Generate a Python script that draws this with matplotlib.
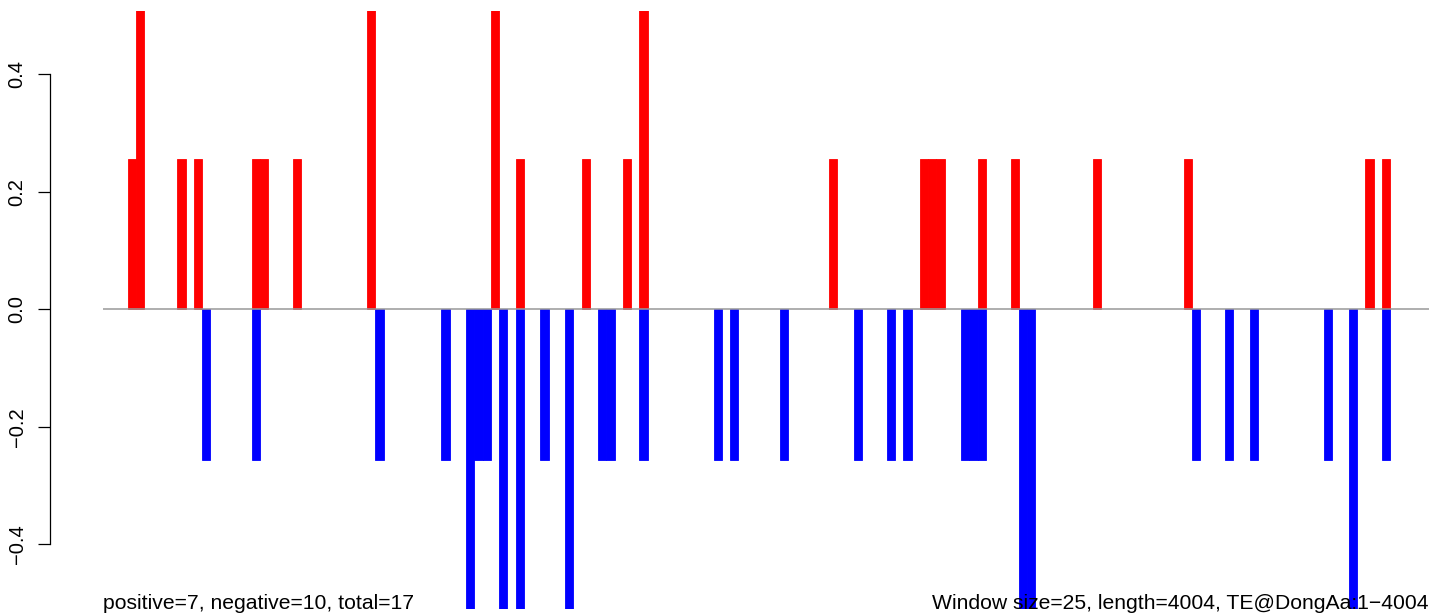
import matplotlib
matplotlib.use("Agg")
import matplotlib.pyplot as plt

plt.rcParams['font.family'] = ['Liberation Sans', 'DejaVu Sans']

# window index (25 bp windows) and score
pos_idx = [3, 4, 9, 11, 18, 19, 23, 32, 47, 50, 58, 63, 65, 88, 99, 100, 101,
           106, 110, 120, 131, 153, 155]
pos_val = [0.256, 0.513, 0.256, 0.256, 0.256, 0.256, 0.256, 0.513, 0.513, 0.256,
           0.256, 0.256, 0.513, 0.256, 0.256, 0.256, 0.256, 0.256, 0.256, 0.256,
           0.256, 0.256, 0.256]

neg_idx = [12, 18, 33, 41, 44, 45, 46, 48, 50, 53, 56, 60, 61, 65, 74, 76, 82,
           91, 95, 97, 104, 105, 106, 111, 112, 132, 136, 139, 148, 151, 155]
neg_val = [-0.256, -0.256, -0.256, -0.256, -0.513, -0.256, -0.256, -0.513, -0.513,
           -0.256, -0.513, -0.256, -0.256, -0.256, -0.256, -0.256, -0.256, -0.256,
           -0.256, -0.256, -0.256, -0.256, -0.256, -0.513, -0.513, -0.256, -0.256,
           -0.256, -0.256, -0.513, -0.256]

yticks = [-0.4, -0.2, 0.0, 0.2, 0.4]
left_note = "positive=7, negative=10, total=17"
right_note = "Window size=25, length=4004, TE@DongAa:1\u22124004"

W, H = 1429, 613
fig = plt.figure(figsize=(W / 100, H / 100), dpi=100)
ax = fig.add_axes([103 / W, 4 / H, 1 - 103 / W, (609 - 11) / H])

ax.bar(pos_idx, pos_val, width=1, align='edge', color='red', edgecolor='red', linewidth=0.6)
ax.bar(neg_idx, neg_val, width=1, align='edge', color='blue', edgecolor='blue', linewidth=0.6)
ax.axhline(0, color='#999999', linewidth=1.1, zorder=3)

ax.set_xlim(0, 1326 / 8.25)
ax.set_ylim(-0.510, 0.508)

for s in ['top', 'right', 'bottom']:
    ax.spines[s].set_visible(False)
ax.spines['left'].set_position(('outward', 38))
ax.spines['left'].set_bounds(-0.4, 0.4)
ax.spines['left'].set_linewidth(0.9)
ax.set_xticks([])
ax.set_yticks(yticks)
ax.set_yticklabels([("%.1f" % v).replace('-', '\u2212') for v in yticks],
                   rotation=90, va='center')
ax.tick_params(axis='y', length=9, width=0.9, pad=8, labelsize=14.5)

fig.text(103 / W, 4 / H, left_note, ha='left', va='baseline', fontsize=15.2, zorder=5)
fig.text(1429 / W, 4 / H, right_note, ha='right', va='baseline', fontsize=15.2, zorder=5)

fig.savefig("out.png", dpi=100)
